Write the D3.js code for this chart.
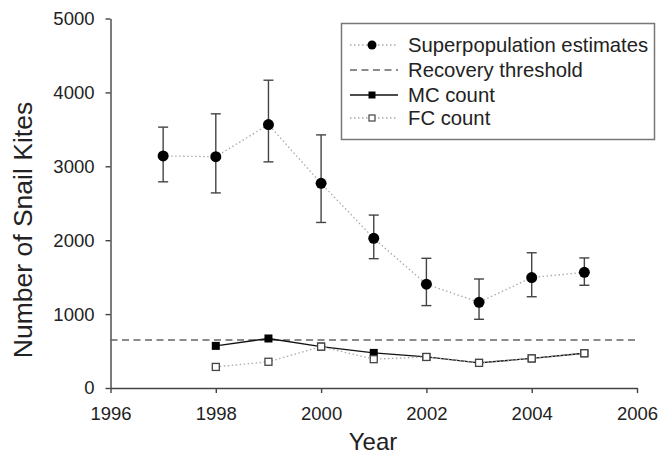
<!DOCTYPE html>
<html>
<head>
<meta charset="utf-8">
<script src="https://cdn.jsdelivr.net/npm/d3@7"></script>
<style>
  body { margin: 0; background: #fff; }
  svg { font-family: "Liberation Sans", Arial, sans-serif; }
  .axis path, .axis line { stroke: #444; stroke-width: 1.4; }
  .axis text { fill: #222; font-size: 18.5px; }
</style>
</head>
<body>
<svg width="660" height="457"></svg>
<script>
// superpopulation estimates with upper / lower bounds
var years = [1997, 1998, 1999, 2000, 2001, 2002, 2003, 2004, 2005];
var superEst = [3140, 3130, 3565, 2770, 2025, 1405, 1160, 1495, 1565];
var superHi = [3530, 3710, 4165, 3425, 2340, 1755, 1475, 1830, 1760];
var superLo = [2790, 2640, 3060, 2240, 1750, 1115, 930, 1235, 1390];

// counts
var countYears = [1998, 1999, 2000, 2001, 2002, 2003, 2004, 2005];
var mcCount = [570, 670, 560, 475, 420, 340, 400, 470];
var fcCount = [285, 355, 560, 390, 420, 340, 400, 470];

var threshold = 650;

var xTicks = [1996, 1998, 2000, 2002, 2004, 2006];
var yTicks = [0, 1000, 2000, 3000, 4000, 5000];

var legendLabels = ["Superpopulation estimates", "Recovery threshold", "MC count", "FC count"];

var svg = d3.select("svg");

var x = d3.scaleLinear().domain([1996, 2006]).range([110.5, 637]);
var y = d3.scaleLinear().domain([0, 5000]).range([388, 18.5]);

// axes
svg.append("g")
  .attr("class", "axis")
  .attr("transform", "translate(0,388)")
  .call(d3.axisBottom(x).tickValues(xTicks).tickFormat(d3.format("d")).tickSize(5).tickSizeOuter(0).tickPadding(14));

svg.append("g")
  .attr("class", "axis")
  .attr("transform", "translate(110.5,0)")
  .call(d3.axisLeft(y).tickValues(yTicks).tickFormat(d3.format("d")).tickSize(5).tickSizeOuter(0).tickPadding(11));

svg.append("text")
  .attr("x", 373).attr("y", 450)
  .attr("text-anchor", "middle")
  .attr("font-size", 24)
  .attr("fill", "#222")
  .text("Year");

svg.append("text")
  .attr("transform", "translate(32,230) rotate(-90)")
  .attr("text-anchor", "middle")
  .attr("font-size", 26.5)
  .attr("fill", "#222")
  .text("Number of Snail Kites");

// recovery threshold
svg.append("line")
  .attr("x1", x(1996)).attr("x2", x(2006))
  .attr("y1", y(threshold)).attr("y2", y(threshold))
  .attr("stroke", "#666").attr("stroke-width", 1.5)
  .attr("stroke-dasharray", "7,4.5");

// superpopulation dotted line
var line = d3.line()
  .x(function(d) { return x(d[0]); })
  .y(function(d) { return y(d[1]); });

svg.append("path")
  .datum(d3.zip(years, superEst))
  .attr("d", line)
  .attr("fill", "none")
  .attr("stroke", "#aaa").attr("stroke-width", 1.3)
  .attr("stroke-dasharray", "1.5,2.5");

// error bars
var eb = svg.append("g").attr("stroke", "#444").attr("stroke-width", 1.4);
years.forEach(function(yr, i) {
  eb.append("line").attr("x1", x(yr)).attr("x2", x(yr)).attr("y1", y(superHi[i])).attr("y2", y(superLo[i]));
  eb.append("line").attr("x1", x(yr) - 5).attr("x2", x(yr) + 5).attr("y1", y(superHi[i])).attr("y2", y(superHi[i]));
  eb.append("line").attr("x1", x(yr) - 5).attr("x2", x(yr) + 5).attr("y1", y(superLo[i])).attr("y2", y(superLo[i]));
});

svg.append("g").selectAll("circle")
  .data(d3.zip(years, superEst))
  .enter().append("circle")
  .attr("cx", function(d) { return x(d[0]); })
  .attr("cy", function(d) { return y(d[1]); })
  .attr("r", 5.5)
  .attr("fill", "#000");

// MC count
svg.append("path")
  .datum(d3.zip(countYears, mcCount))
  .attr("d", line)
  .attr("fill", "none")
  .attr("stroke", "#111").attr("stroke-width", 1.3);

svg.append("g").selectAll("rect")
  .data(d3.zip(countYears, mcCount))
  .enter().append("rect")
  .attr("x", function(d) { return x(d[0]) - 4; })
  .attr("y", function(d) { return y(d[1]) - 4; })
  .attr("width", 8).attr("height", 8)
  .attr("fill", "#000");

// FC count
svg.append("path")
  .datum(d3.zip(countYears, fcCount))
  .attr("d", line)
  .attr("fill", "none")
  .attr("stroke", "#aaa").attr("stroke-width", 1.3)
  .attr("stroke-dasharray", "1.5,2.5");

svg.append("g").selectAll("rect")
  .data(d3.zip(countYears, fcCount))
  .enter().append("rect")
  .attr("x", function(d) { return x(d[0]) - 3.5; })
  .attr("y", function(d) { return y(d[1]) - 3.5; })
  .attr("width", 7).attr("height", 7)
  .attr("fill", "#fff").attr("stroke", "#444").attr("stroke-width", 1.3);

// legend
var lg = svg.append("g");
lg.append("rect")
  .attr("x", 341.5).attr("y", 23.5).attr("width", 313).attr("height", 116)
  .attr("fill", "#fff").attr("stroke", "#777").attr("stroke-width", 1.5);

var rowY = [45, 70, 95, 118];
legendLabels.forEach(function(lbl, i) {
  lg.append("text")
    .attr("x", 408).attr("y", rowY[i])
    .attr("dy", "0.35em")
    .attr("font-size", 20.3)
    .attr("fill", "#222")
    .text(lbl);
});

lg.append("line").attr("x1", 350).attr("x2", 398).attr("y1", rowY[0]).attr("y2", rowY[0])
  .attr("stroke", "#aaa").attr("stroke-width", 1.3).attr("stroke-dasharray", "1.5,2.5");
lg.append("circle").attr("cx", 372).attr("cy", rowY[0]).attr("r", 4.5).attr("fill", "#000");

lg.append("line").attr("x1", 350).attr("x2", 398).attr("y1", rowY[1]).attr("y2", rowY[1])
  .attr("stroke", "#666").attr("stroke-width", 1.5).attr("stroke-dasharray", "7,4.5");

lg.append("line").attr("x1", 350).attr("x2", 398).attr("y1", rowY[2]).attr("y2", rowY[2])
  .attr("stroke", "#111").attr("stroke-width", 1.3);
lg.append("rect").attr("x", 368.5).attr("y", rowY[2] - 3.5).attr("width", 7).attr("height", 7).attr("fill", "#000");

lg.append("line").attr("x1", 350).attr("x2", 398).attr("y1", rowY[3]).attr("y2", rowY[3])
  .attr("stroke", "#aaa").attr("stroke-width", 1.3).attr("stroke-dasharray", "1.5,2.5");
lg.append("rect").attr("x", 369).attr("y", rowY[3] - 3).attr("width", 6).attr("height", 6)
  .attr("fill", "#fff").attr("stroke", "#444").attr("stroke-width", 1.2);
</script>
</body>
</html>
